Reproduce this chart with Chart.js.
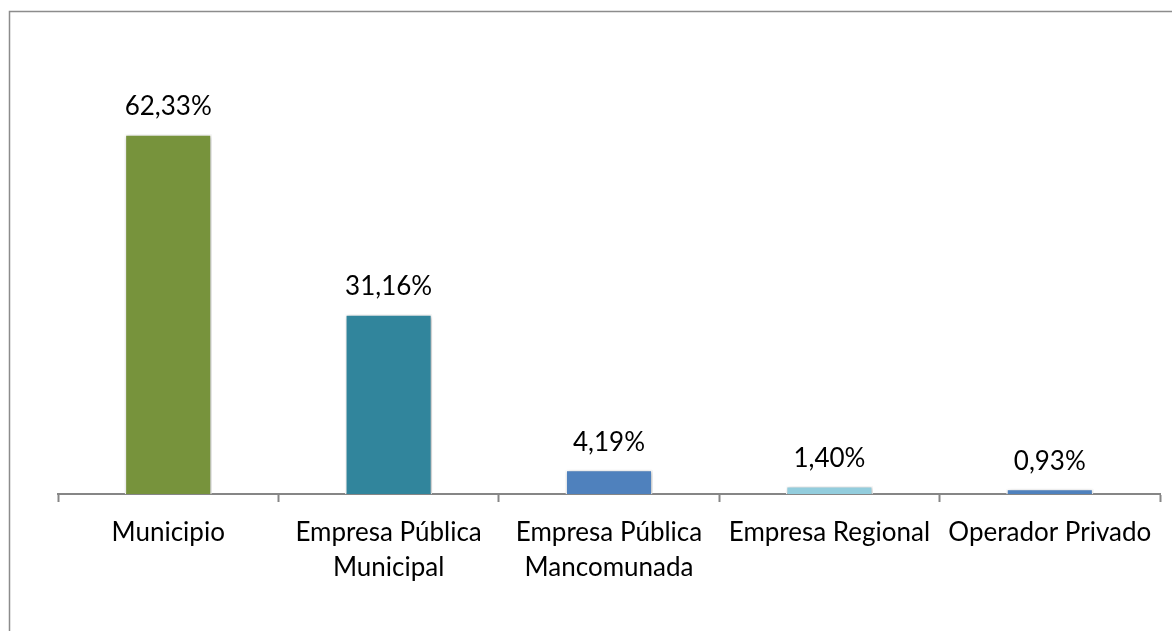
<!DOCTYPE html>
<html>
<head>
<meta charset="utf-8">
<script src="https://cdn.jsdelivr.net/npm/chart.js@4"></script>
<style>
  html, body { margin: 0; padding: 0; background: #fff; }
  #wrap { width: 1172px; height: 631px; }
</style>
</head>
<body>
<div id="wrap"><canvas id="chart" width="1172" height="631"></canvas></div>
<script>
// operator types and their share
let categories = [
  'Municipio',
  ['Empresa Pública', 'Municipal'],
  ['Empresa Pública', 'Mancomunada'],
  'Empresa Regional',
  'Operador Privado'
];
let shares = [62.33, 31.16, 4.19, 1.40, 0.93];
let barColors = ['#77933C', '#31859C', '#4F81BD', '#93CDDD', '#4F81BD'];

const FONT = { family: 'Lato', size: 26 };

// outer frame (left + top only)
const framePlugin = {
  id: 'frame',
  beforeDraw(chart) {
    let ctx = chart.ctx;
    ctx.save();
    ctx.strokeStyle = '#8c8c8c';
    ctx.lineWidth = 1.5;
    ctx.beginPath();
    ctx.moveTo(9.5, chart.height);
    ctx.lineTo(9.5, 11.5);
    ctx.lineTo(chart.width, 11.5);
    ctx.stroke();
    ctx.restore();
  }
};

// soft shadow under the bars
const shadowPlugin = {
  id: 'barShadow',
  beforeDatasetDraw(chart) {
    let ctx = chart.ctx;
    ctx.save();
    ctx.shadowColor = 'rgba(0,0,0,0.3)';
    ctx.shadowBlur = 4;
    ctx.shadowOffsetX = 1;
    ctx.shadowOffsetY = 1;
  },
  afterDatasetDraw(chart) {
    chart.ctx.restore();
  }
};

// percentage labels over each bar
const valuePlugin = {
  id: 'values',
  afterDatasetsDraw(chart) {
    let ctx = chart.ctx;
    let meta = chart.getDatasetMeta(0);
    ctx.save();
    ctx.font = FONT.size + 'px ' + FONT.family;
    ctx.fillStyle = '#000';
    ctx.textAlign = 'center';
    ctx.textBaseline = 'alphabetic';
    meta.data.forEach((bar, i) => {
      let txt = shares[i].toFixed(2).replace('.', ',') + '%';
      ctx.fillText(txt, bar.x, bar.y - 19);
    });
    ctx.restore();
  }
};

let chartCanv = document.getElementById('chart').getContext('2d');

let chart = new Chart(chartCanv, {
  type: 'bar',
  plugins: [framePlugin, shadowPlugin, valuePlugin],
  data: {
    labels: categories,
    datasets: [{
      data: shares,
      backgroundColor: barColors,
      borderColor: '#ffffff',
      borderWidth: 1.5,
      barPercentage: 0.395,
      categoryPercentage: 1
    }]
  },
  options: {
    responsive: false,
    animation: false,
    layout: { padding: { left: 58, right: 12, top: 90, bottom: 0 } },
    plugins: {
      legend: { display: false },
      tooltip: { enabled: false }
    },
    scales: {
      y: {
        display: false,
        min: 0,
        max: 70
      },
      x: {
        afterFit(scale) { scale.height = 137; },
        border: { display: true, color: '#868686', width: 2 },
        grid: {
          offset: true,
          drawOnChartArea: false,
          drawTicks: true,
          tickLength: 8,
          tickWidth: 2,
          tickColor: '#868686'
        },
        ticks: {
          color: '#000',
          font: { family: FONT.family, size: FONT.size, lineHeight: 1.35 },
          padding: 13,
          maxRotation: 0,
          autoSkip: false
        }
      }
    }
  }
});
</script>
</body>
</html>
